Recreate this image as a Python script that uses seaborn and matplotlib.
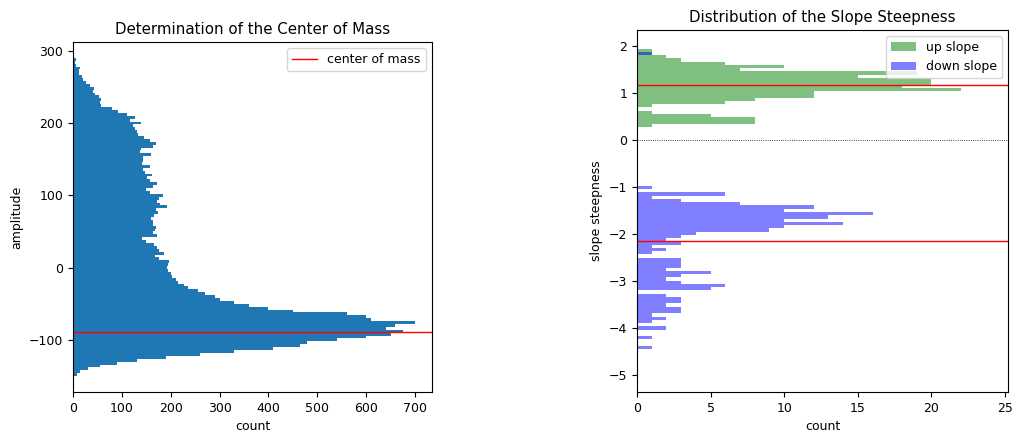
import numpy as np
import pandas as pd
import matplotlib
matplotlib.use('Agg')
import matplotlib.pyplot as plt
from matplotlib.patches import Patch
import seaborn as sns

plt.rcParams['font.size'] = 9

# amplitude histogram, bins of width 4 from -150 to 290 (bottom -> top)
amp_counts = [8, 15, 30, 55, 90, 130, 190, 260, 330, 410,
              465, 480, 540, 600, 650, 675, 640, 660, 700, 610,
              600, 560, 450, 400, 360, 330, 300, 290, 270, 255,
              235, 228, 215, 210, 202, 200, 195, 192, 194, 197,
              176, 168, 186, 176, 172, 165, 150, 142, 172, 164,
              167, 170, 164, 163, 160, 165, 174, 170, 192, 178,
              172, 175, 185, 157, 150, 164, 171, 158, 152, 162,
              147, 144, 157, 142, 144, 144, 160, 137, 140, 164,
              170, 157, 145, 134, 130, 127, 122, 140, 117, 127,
              110, 92, 80, 58, 55, 58, 54, 45, 40, 42,
              35, 27, 21, 18, 13, 12, 14, 6, 5, 7]
amp_lo, amp_w = -150, 4
center_of_mass = -88.5

# slope histograms, common bins (bottom -> top)
slope_lo, slope_w, slope_n = -4.45, 0.0695, 92
down_counts = [1, 0, 0, 1, 0, 0, 2, 0, 1, 2,
               1, 3, 3, 2, 3, 3, 2, 0, 5, 6,
               3, 2, 3, 5, 2, 3, 3, 3, 0, 1,
               2, 1, 3, 2, 3, 4, 9, 10, 14, 10,
               13, 16, 10, 12, 7, 3, 1, 6, 0, 1]
down_extra_bin, down_extra_count = 90, 1
up_first_bin = 68
up_counts = [1, 8, 8, 5, 1, 0, 1, 6, 8, 12,
             12, 22, 18, 20, 20, 15, 19, 7, 10, 6,
             3, 2, 1, 1]
up_mean = 1.164
down_mean = -2.149

amp_centers = amp_lo + amp_w * (np.arange(len(amp_counts)) + 0.5)
amp_range = (amp_lo, amp_lo + amp_w * len(amp_counts))
slope_centers = slope_lo + slope_w * (np.arange(slope_n) + 0.5)
slope_range = (slope_lo, slope_lo + slope_w * slope_n)

down_full = np.zeros(slope_n)
down_full[:len(down_counts)] = down_counts
down_full[down_extra_bin] = down_extra_count
up_full = np.zeros(slope_n)
up_full[up_first_bin:up_first_bin + len(up_counts)] = up_counts

df_amp = pd.DataFrame({'amplitude': amp_centers, 'count': amp_counts})
df_up = pd.DataFrame({'slope': slope_centers, 'count': up_full})
df_down = pd.DataFrame({'slope': slope_centers, 'count': down_full})

fig = plt.figure(figsize=(10.13, 4.34), dpi=100)
ax1 = fig.add_axes([0.0721, 0.0968, 0.3544, 0.8065])
ax2 = fig.add_axes([0.6288, 0.0968, 0.3663, 0.8341])

sns.histplot(data=df_amp, y='amplitude', weights='count',
             bins=len(amp_counts), binrange=amp_range,
             color='#1f77b4', alpha=1, linewidth=0, ax=ax1)
ax1.axhline(center_of_mass, color='r', lw=1, label='center of mass')
ax1.set_xlim(0, 735)
ax1.set_ylim(-172, 312)
ax1.set_xlabel('count')
ax1.set_ylabel('amplitude')
ax1.set_title('Determination of the Center of Mass')
ax1.legend(loc='upper right')

sns.histplot(data=df_up, y='slope', weights='count',
             bins=slope_n, binrange=slope_range,
             color='g', alpha=0.5, linewidth=0, ax=ax2)
sns.histplot(data=df_down, y='slope', weights='count',
             bins=slope_n, binrange=slope_range,
             color='b', alpha=0.5, linewidth=0, ax=ax2)
ax2.axhline(up_mean, color='r', lw=1)
ax2.axhline(down_mean, color='r', lw=1)
ax2.axhline(0, color='k', lw=0.6, ls=':')
ax2.set_xlim(0, 25.2)
ax2.set_ylim(-5.36, 2.34)
ax2.set_xlabel('count')
ax2.set_ylabel('slope steepness')
ax2.set_title('Distribution of the Slope Steepness')
ax2.legend(handles=[Patch(facecolor='g', alpha=0.5, linewidth=0, label='up slope'),
                    Patch(facecolor='b', alpha=0.5, linewidth=0, label='down slope')],
           loc='upper right')

fig.savefig('out.png', dpi=100)
